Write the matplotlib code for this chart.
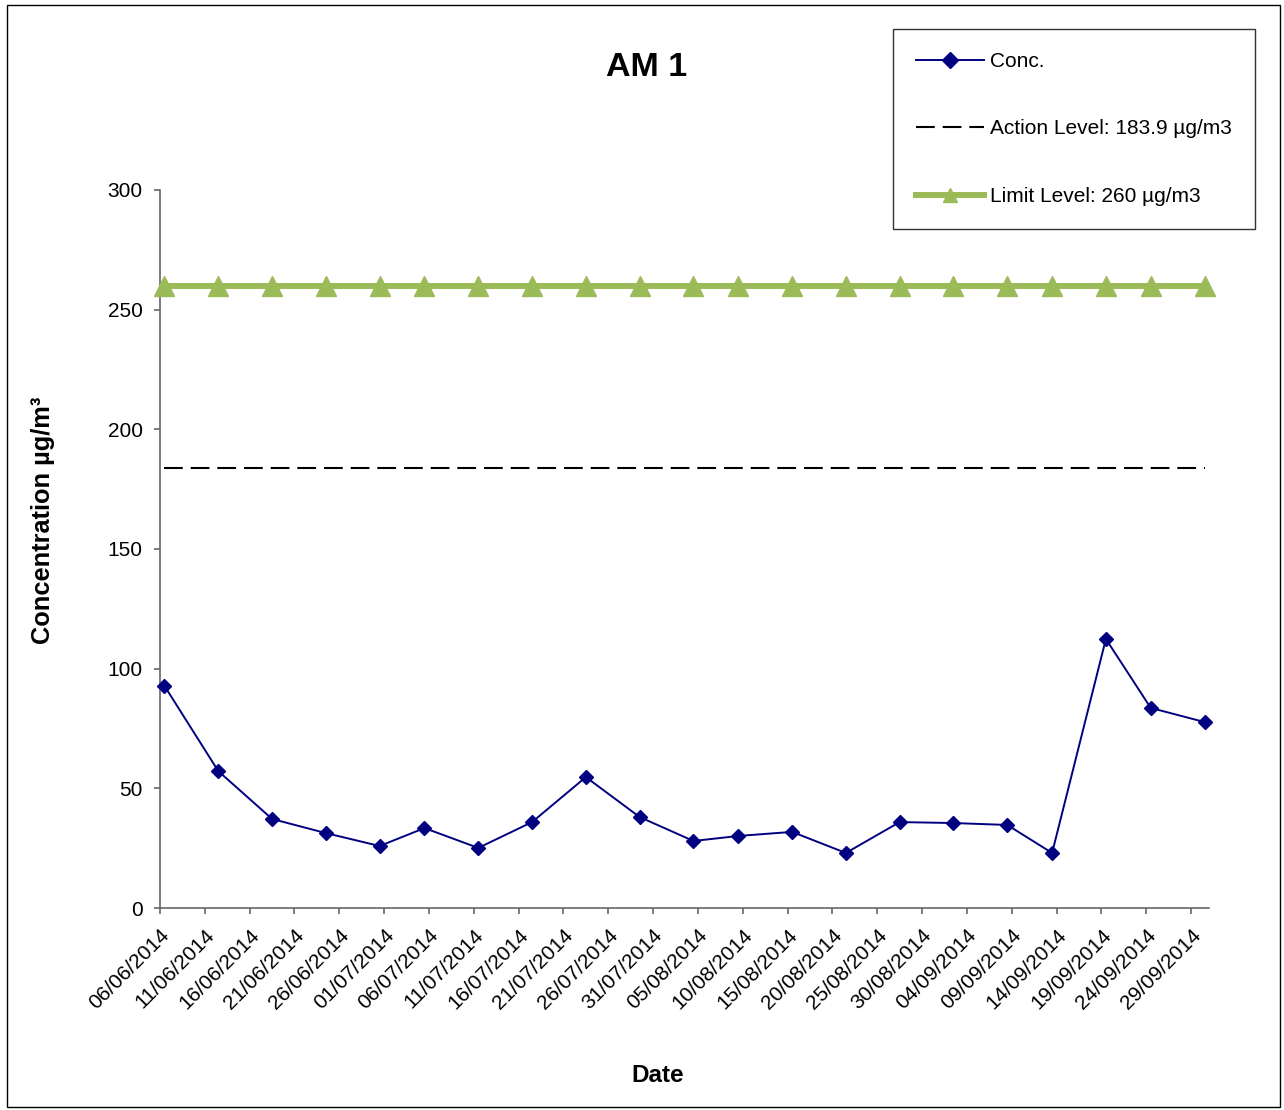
import matplotlib
matplotlib.use("Agg")
import matplotlib.pyplot as plt
from matplotlib.patches import Rectangle
import numpy as np
import pandas as pd

plt.rcParams['font.family'] = ['Liberation Sans', 'DejaVu Sans']

dates = ["06/06/2014", "12/06/2014", "18/06/2014", "24/06/2014", "30/06/2014",
         "05/07/2014", "11/07/2014", "17/07/2014", "23/07/2014", "29/07/2014",
         "04/08/2014", "09/08/2014", "15/08/2014", "21/08/2014", "27/08/2014",
         "02/09/2014", "08/09/2014", "13/09/2014", "19/09/2014", "24/09/2014",
         "30/09/2014"]
conc = [92.8, 57.2, 37.2, 31.3, 25.9, 33.4, 25.1, 35.9, 54.7, 38.0, 28.0,
        30.1, 31.8, 23.0, 35.9, 35.5, 34.7, 23.0, 112.4, 83.6, 77.7]
action_level = 183.9
limit_level = 260

title = "AM 1"
labels = ["Conc.", "Action Level: 183.9 µg/m3", "Limit Level: 260 µg/m3"]

x = pd.to_datetime(dates, format="%d/%m/%Y") + pd.Timedelta(hours=12)

W, H = 1284, 1110
fig = plt.figure(figsize=(W / 100, H / 100), dpi=100)
ax = fig.add_axes([160 / W, 1 - 908 / H, (1209 - 160) / W, (908 - 190) / H])

l1, = ax.plot(x, conc, color="#000080", lw=1.4, marker="D", markersize=7.5,
              clip_on=False, zorder=5)
l2, = ax.plot(x, [action_level] * len(x), color="black", lw=1.5,
              dashes=(9.0, 3.8), zorder=3)
l3, = ax.plot(x, [limit_level] * len(x), color="#9BBB59", lw=4.3, marker="^",
              markersize=14, clip_on=False, zorder=4)

ax.set_ylim(0, 300)
ax.set_yticks(np.arange(0, 301, 50))
ax.set_xlim(pd.Timestamp("2014-06-06"), pd.Timestamp("2014-10-01"))
ticks = pd.date_range("2014-06-06", "2014-09-29", freq="5D")
ax.set_xticks(ticks)
ax.set_xticklabels([t.strftime("%d/%m/%Y") for t in ticks], rotation=45,
                   ha="right", va="top", rotation_mode="anchor")

for s in ["top", "right"]:
    ax.spines[s].set_visible(False)
for s in ["left", "bottom"]:
    ax.spines[s].set_color("#666666")
    ax.spines[s].set_linewidth(1.2)
ax.tick_params(axis="both", direction="out", length=4.5, width=1.2,
               color="#666666", labelsize=15, labelcolor="black")
ax.tick_params(axis="y", pad=8)
ax.tick_params(axis="x", pad=8)

fig.text(647 / W, 1 - 67.5 / H, title, ha="center", va="center",
         fontsize=24.5, fontweight="bold")
fig.text(658 / W, 1 - 1075 / H, "Date", ha="center", va="center",
         fontsize=17.5, fontweight="bold")
fig.text(43 / W, 1 - 520 / H, "Concentration µg/m³", ha="center", va="center",
         rotation=90, fontsize=18.3, fontweight="bold")

leg = fig.legend([l1, l2, l3], labels, loc="upper left",
                 bbox_to_anchor=(893 / W, 1 - 29 / H), borderaxespad=0,
                 fontsize=15, frameon=True, fancybox=False, edgecolor="black",
                 labelspacing=2.33, handlelength=3.27, handletextpad=0.3,
                 borderpad=1.1)
leg.get_frame().set_linewidth(1.0)
leg.legend_handles[0].set_markersize(8)
leg.legend_handles[2].set_markersize(10)

fig.patches.append(Rectangle((7 / W, 1 - 1107 / H), (1280 - 7) / W, (1107 - 5) / H,
                             transform=fig.transFigure, fill=False,
                             edgecolor="black", lw=1.0))

fig.savefig("out.png", dpi=100)
